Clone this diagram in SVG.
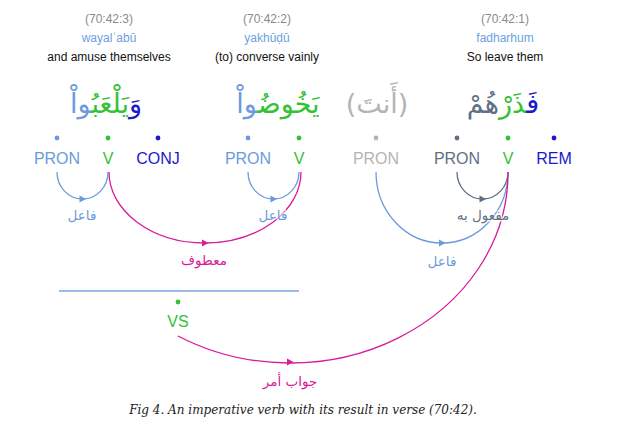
<svg xmlns="http://www.w3.org/2000/svg" width="630" height="437" viewBox="0 0 630 437">
<style>
.ref{font:12px "Liberation Sans",Arial,sans-serif;fill:#8a8a8a;text-anchor:middle}
.tr{font:12px "Liberation Sans",Arial,sans-serif;fill:#6b9fe0;text-anchor:middle}
.en{font:12px "Liberation Sans",Arial,sans-serif;fill:#111;text-anchor:middle}
.ar{font:27px "DejaVu Sans",sans-serif;text-anchor:middle}
.tag{font:16px "Liberation Sans",Arial,sans-serif;text-anchor:middle}
.lbl{font:13.5px "DejaVu Sans",sans-serif;text-anchor:middle;paint-order:stroke;stroke:#fff;stroke-opacity:.6;stroke-width:3}
.arc{fill:none;stroke-width:1.3}
.cap{font:italic 12px "DejaVu Serif",serif;fill:#222;text-anchor:middle}
.lb{fill:#6b9bdc}.gr{fill:#33c233}.db{fill:#1a1ac8}.sl{fill:#5f6f84}.gy{fill:#b4b4b4}.mg{fill:#d81b9a}
</style>
<defs>
<path id="ah" d="M-3,-3.5 L3.5,0 L-3,3.5 Z"/>
</defs>

<g id="w3">
<text class="ref" x="109" y="23">(70:42:3)</text>
<text class="tr" x="109" y="42">wayalʿabū</text>
<text class="en" x="109" y="61">and amuse themselves</text>
<text class="ar" x="106" y="113" direction="rtl"><tspan class="db">وَ</tspan><tspan class="gr">يَلْعَبُ</tspan><tspan class="lb">واْ</tspan></text>
<circle cx="57" cy="138" r="2.4" class="lb"/>
<text class="tag lb" x="57" y="164">PRON</text>
<circle cx="108" cy="138" r="2.4" class="gr"/>
<text class="tag gr" x="108" y="164">V</text>
<circle cx="158" cy="138" r="2.4" class="db"/>
<text class="tag db" x="158" y="164">CONJ</text>
</g>

<g id="w2">
<text class="ref" x="267" y="23">(70:42:2)</text>
<text class="tr" x="267" y="42">yakhūḍū</text>
<text class="en" x="267" y="61">(to) converse vainly</text>
<text class="ar" x="278" y="113" direction="rtl"><tspan class="gr">يَخُوضُ</tspan><tspan class="lb">واْ</tspan></text>
<circle cx="248" cy="138" r="2.4" class="lb"/>
<text class="tag lb" x="248" y="164">PRON</text>
<circle cx="299" cy="138" r="2.4" class="gr"/>
<text class="tag gr" x="299" y="164">V</text>
</g>

<g id="w0">
<text class="ar gy" x="377" y="113" direction="rtl">(أَنتَ)</text>
<circle cx="376" cy="138" r="2.4" class="gy"/>
<text class="tag gy" x="376" y="164">PRON</text>
</g>

<g id="w1">
<text class="ref" x="505" y="23">(70:42:1)</text>
<text class="tr" x="505" y="42">fadharhum</text>
<text class="en" x="505" y="61">So leave them</text>
<text class="ar" x="503" y="113" direction="rtl"><tspan class="db">فَ</tspan><tspan class="gr">ذَرْ</tspan><tspan class="sl">هُمْ</tspan></text>
<circle cx="457" cy="138" r="2.4" class="sl"/>
<text class="tag sl" x="457" y="164">PRON</text>
<circle cx="508" cy="138" r="2.4" class="gr"/>
<text class="tag gr" x="508" y="164">V</text>
<circle cx="554" cy="138" r="2.4" class="db"/>
<text class="tag db" x="554" y="164">REM</text>
</g>

<g id="vs">
<line x1="59" y1="291" x2="299" y2="291" stroke="#7ba5de" stroke-width="1.6"/>
<circle cx="178" cy="302" r="2.4" class="gr"/>
<text class="tag gr" x="178" y="327">VS</text>
</g>

<g id="connectors">
<path class="arc" stroke="#6b9bdc" d="M108,172 A25.5,27 0 0 1 57,172"/>
<use href="#ah" x="82.5" y="199" class="lb"/>
<path class="arc" stroke="#6b9bdc" d="M299,172 A25.5,27 0 0 1 248,172"/>
<use href="#ah" x="273.5" y="199" class="lb"/>
<path class="arc" stroke="#d81b9a" stroke-width="1.5" d="M109,172 A96,71 0 0 0 301,172"/>
<use href="#ah" x="205" y="243" class="mg"/>
<path class="arc" stroke="#5f6f84" d="M508,172 A25.5,27 0 0 1 457,172"/>
<use href="#ah" x="482.5" y="199" class="sl"/>
<path class="arc" stroke="#6b9bdc" d="M508,172 A66,71 0 0 1 376,172"/>
<use href="#ah" x="442" y="243" class="lb"/>
<path class="arc" stroke="#d81b9a" stroke-width="1.5" d="M508,172 A218,190 0 0 1 178,336"/>
<use href="#ah" x="290" y="362" class="mg"/>
<text class="lbl lb" x="82" y="220">فاعل</text>
<text class="lbl lb" x="273" y="220">فاعل</text>
<text class="lbl mg" x="204" y="265">معطوف</text>
<text class="lbl sl" x="483" y="220">مفعول به</text>
<text class="lbl lb" x="442" y="266">فاعل</text>
<text class="lbl mg" x="290" y="386">جواب أمر</text>
</g>

<text class="cap" x="303" y="414">Fig 4. An imperative verb with its result in verse (70:42).</text>
</svg>
